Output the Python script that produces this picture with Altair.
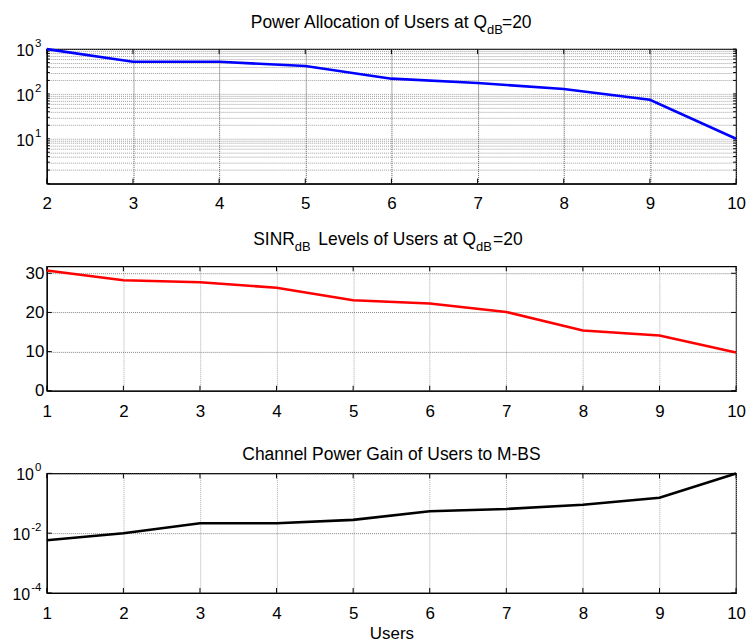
import altair as alt
import pandas as pd

FONT = "Liberation Sans"

# ---- data ----
users_power = [2, 3, 4, 5, 6, 7, 8, 9, 10]
power_alloc = [1000, 522, 520, 419, 219, 175, 129, 74, 10]

users_all = [1, 2, 3, 4, 5, 6, 7, 8, 9, 10]
sinr_db = [30.7, 28.2, 27.7, 26.3, 23.1, 22.3, 20.1, 15.4, 14.1, 9.75]
channel_gain = [0.0058, 0.0100, 0.0215, 0.0215, 0.0279, 0.054, 0.0645, 0.0898, 0.154, 1.0]

power_grid = [1, 2, 3, 4, 5, 6, 7, 8, 9,
              10, 20, 30, 40, 50, 60, 70, 80, 90,
              100, 200, 300, 400, 500, 600, 700, 800, 900, 1000]
power_label_vals = [10, 100, 1000]
power_label_exp = ["1", "2", "3"]

sinr_ticks = [0, 10, 20, 30]

gain_ticks = [0.0001, 0.01, 1]
gain_label_exp = ["-4", "-2", "0"]

W = 692
H1, H2, H3 = 135, 125, 120


def txt(text, x, y, align="left", size=17.5):
    return alt.Chart(alt.Data(values=[{}])).mark_text(
        text=text, align=align, baseline="alphabetic", fontSize=size,
        font=FONT, color="black"
    ).encode(x=alt.value(x), y=alt.value(y))


def xaxis(vals, grid_color, title=None):
    kw = dict(values=vals, grid=True, gridColor=grid_color, gridDash=[1, 1],
              gridWidth=1, labelPadding=12.5)
    if title:
        kw.update(title=title, titleFont=FONT, titleFontSize=17,
                  titleFontWeight="normal", titleColor="black", titlePadding=4)
    else:
        kw.update(title=None)
    return alt.Axis(**kw)


def inner_ticks(df, field, scale, axis, orient, length, h):
    """MATLAB-style inward ticks on both opposite edges."""
    base = alt.Chart(df).mark_rule(color="black", strokeWidth=1)
    if orient == "x":
        enc = dict(x=alt.X(f"{field}:Q", scale=scale, axis=axis, title=None))
        return [
            base.encode(**enc, y=alt.value(0), y2=alt.value(length)),
            base.encode(**enc, y=alt.value(h - length), y2=alt.value(h)),
        ]
    enc = dict(y=alt.Y(f"{field}:Q", scale=scale, axis=axis, title=None))
    return [
        base.encode(**enc, x=alt.value(0), x2=alt.value(length)),
        base.encode(**enc, x=alt.value(W - length), x2=alt.value(W)),
    ]


def log_labels(vals, exps, scale, axis, single_offset=-13, double_offset=-16.7):
    df = pd.DataFrame({"v": vals, "e": exps})
    df["n"] = df["e"].str.len()
    layers = []
    for n, off in ((1, single_offset), (2, double_offset)):
        sub = df[df["n"] == n]
        if len(sub) == 0:
            continue
        layers.append(alt.Chart(sub).mark_text(
            text="10", align="right", baseline="alphabetic", dy=7,
            fontSize=16, font=FONT, color="black"
        ).encode(x=alt.value(off),
                 y=alt.Y("v:Q", scale=scale, axis=axis, title=None)))
    layers.append(alt.Chart(df).mark_text(
        align="right", baseline="alphabetic", dy=-2,
        fontSize=11.5, font=FONT, color="black"
    ).encode(x=alt.value(-5.5),
             y=alt.Y("v:Q", scale=scale, axis=axis, title=None),
             text="e:N"))
    return layers


# ---- panel 1 ----
x1_scale = alt.Scale(domain=[2, 10], nice=False, zero=False)
y1_scale = alt.Scale(type="log", domain=[1, 1000], nice=False)
x1_axis = xaxis(users_power, "#555")
y1_axis = alt.Axis(values=power_grid, title=None, grid=True,
                   gridColor="#888", gridDash=[1, 1], gridWidth=0.8, labels=False)
df_p = pd.DataFrame({"user": users_power, "power": power_alloc})
p1_line = alt.Chart(df_p).mark_line(color="#0000FF", strokeWidth=2.6).encode(
    x=alt.X("user:Q", scale=x1_scale, axis=x1_axis, title=None),
    y=alt.Y("power:Q", scale=y1_scale, axis=y1_axis, title=None),
)
p1 = alt.layer(
    *inner_ticks(pd.DataFrame({"t": users_power}), "t", x1_scale, x1_axis, "x", 5, H1),
    *inner_ticks(pd.DataFrame({"t": power_grid}), "t", y1_scale, y1_axis, "y", 3, H1),
    p1_line,
    *log_labels(power_label_vals, power_label_exp, y1_scale, y1_axis),
    txt("Power Allocation of Users at Q", 442, -21.6, align="right"),
    txt("dB", 442, -15, size=13),
    txt("=20", 457, -21.6),
).properties(width=W, height=H1)

# ---- panel 2 ----
x2_scale = alt.Scale(domain=[1, 10], nice=False, zero=False)
y2_scale = alt.Scale(domain=[0, 31.8], nice=False)
x2_axis = xaxis(users_all, "#aaa")
y2_axis = alt.Axis(values=sinr_ticks, title=None, grid=True,
                   gridColor="#666", gridDash=[1, 1], gridWidth=0.8, labelPadding=3)
df_s = pd.DataFrame({"user": users_all, "sinr": sinr_db})
p2_line = alt.Chart(df_s).mark_line(color="#FF0000", strokeWidth=2.6).encode(
    x=alt.X("user:Q", scale=x2_scale, axis=x2_axis, title=None),
    y=alt.Y("sinr:Q", scale=y2_scale, axis=y2_axis, title=None),
)
p2 = alt.layer(
    *inner_ticks(pd.DataFrame({"t": users_all}), "t", x2_scale, x2_axis, "x", 5, H2),
    *inner_ticks(pd.DataFrame({"t": sinr_ticks}), "t", y2_scale, y2_axis, "y", 5, H2),
    p2_line,
    txt("SINR", 249, -21.6, align="right"),
    txt("dB", 249, -15, size=13),
    txt("Levels of Users at Q", 431, -21.6, align="right"),
    txt("dB", 431, -15, size=13),
    txt("=20", 448, -21.6),
).properties(width=W, height=H2)

# ---- panel 3 ----
x3_scale = alt.Scale(domain=[1, 10], nice=False, zero=False)
y3_scale = alt.Scale(type="log", domain=[0.0001, 1], nice=False)
x3_axis = xaxis(users_all, "#aaa", title="Users")
y3_axis = alt.Axis(values=gain_ticks, title=None, grid=True,
                   gridColor="#666", gridDash=[1, 1], gridWidth=0.8, labels=False)
df_g = pd.DataFrame({"user": users_all, "gain": channel_gain})
p3_line = alt.Chart(df_g).mark_line(color="#000000", strokeWidth=2.6).encode(
    x=alt.X("user:Q", scale=x3_scale, axis=x3_axis, title="Users"),
    y=alt.Y("gain:Q", scale=y3_scale, axis=y3_axis, title=None),
)
p3 = alt.layer(
    *inner_ticks(pd.DataFrame({"t": users_all}), "t", x3_scale, x3_axis, "x", 5, H3),
    *inner_ticks(pd.DataFrame({"t": gain_ticks}), "t", y3_scale, y3_axis, "y", 5, H3),
    p3_line,
    *log_labels(gain_ticks, gain_label_exp, y3_scale, y3_axis),
    txt("Channel Power Gain of Users to M-BS", W / 2, -13.4, align="center"),
).properties(width=W, height=H3)

chart = alt.vconcat(p1, p2, p3, spacing=83, bounds="flush").properties(
    padding={"left": 11, "top": 11, "right": 4, "bottom": 4},
    background="white",
).configure_view(
    stroke="black", strokeWidth=1.2
).configure_axis(
    labelFont=FONT, labelFontSize=17, labelColor="black",
    domainColor="black", domainWidth=1.2, ticks=False,
    labelFlush=False, labelOverlap=False,
)

chart.save("out.html", embed_options={"renderer": "svg", "actions": False})
